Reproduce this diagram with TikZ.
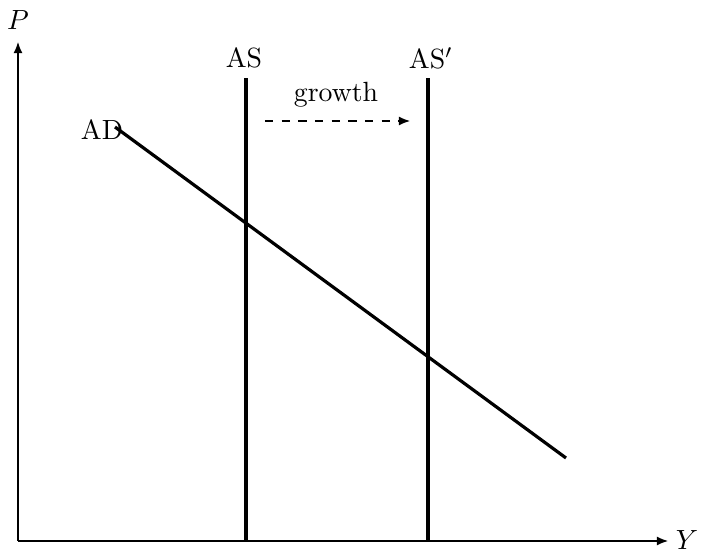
\documentclass[tikz,border=0pt]{standalone}
\usetikzlibrary{arrows.meta}
\begin{document}
\begin{tikzpicture}[x=0.36pt,y=-0.36pt,
  axis/.style={thin,-{Latex[length=4pt,width=3.2pt]}},
  curve/.style={line width=1.15pt},
  shiftarrow/.style={thin,dashed,-{Latex[length=4pt,width=3.2pt]}},
  lbl/.style={inner sep=0pt}]
\useasboundingbox (0,0) rectangle (702,550);
\coordinate (O) at (18,541);
\coordinate (Ptop) at (18,42);
\coordinate (Yend) at (668,541);
\draw[axis] (O) -- (Ptop);
\draw[axis] (O) -- (Yend);
\node[lbl] (P) at (18,20) {$P$};
\node[lbl] (Y) at (687,540) {$Y$};
% AS curves
\coordinate (AS1b) at (246,541);
\coordinate (AS1t) at (246,78);
\coordinate (AS2b) at (428,541);
\coordinate (AS2t) at (428,78);
\draw[curve] (AS1b) -- (AS1t);
\draw[curve] (AS2b) -- (AS2t);
\node[lbl] (ASl) at (244,58) {AS};
\node[lbl] (AS2l) at (431,58) {AS$'$};
% AD
\coordinate (AD1) at (115,127);
\coordinate (AD2) at (566,458);
\draw[curve] (AD1) -- (AD2);
\node[lbl] (ADl) at (102,130) {AD};
% growth
\node[lbl] (g) at (336,95) {growth};
\coordinate (g1) at (265,121);
\coordinate (g2) at (410,121);
\draw[shiftarrow] (g1) -- (g2);
\end{tikzpicture}
\end{document}
